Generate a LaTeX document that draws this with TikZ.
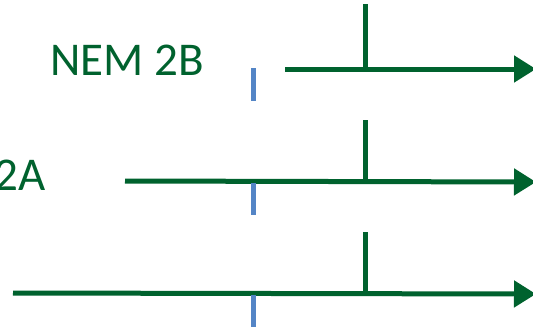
\documentclass[tikz,border=0pt]{standalone}
\usepackage{fontspec}
\setmainfont{Carlito}
\usetikzlibrary{arrows.meta}
\definecolor{dgreen}{RGB}{0,98,46}
\definecolor{tblue}{RGB}{84,133,198}
\begin{document}
\begin{tikzpicture}[x=1pt,y=-1pt,
  axis/.style={draw=dgreen,line width=5pt,-{Triangle[length=22pt,width=26pt]}},
  gtick/.style={draw=dgreen,line width=5pt},
  btick/.style={draw=tblue,line width=5pt},
  lbl/.style={text=dgreen,font=\fontsize{47}{50}\selectfont,inner sep=0pt}]
\useasboundingbox (0,0) rectangle (533,330);
% labels
\node[lbl,anchor=base west] (l1) at (50,75) {NEM 2B};
\node[lbl,anchor=base east] (l2) at (46,190) {2A};
% top
\coordinate (a1) at (285,69);
\coordinate (b1) at (536,69);
\coordinate (g1a) at (365,4);
\coordinate (g1b) at (365,69);
\coordinate (t1a) at (253,68);
\coordinate (t1b) at (253,101);
\draw[axis] (a1) -- (b1);
\draw[gtick] (g1a) -- (g1b);
\draw[btick] (t1a) -- (t1b);
% middle
\coordinate (a2) at (125,181);
\coordinate (b2) at (536,182);
\coordinate (g2a) at (365,120);
\coordinate (g2b) at (365,182);
\coordinate (t2a) at (253,183);
\coordinate (t2b) at (253,215);
\draw[axis] (a2) -- (b2);
\draw[gtick] (g2a) -- (g2b);
\draw[btick] (t2a) -- (t2b);
% bottom
\coordinate (a3) at (13,293);
\coordinate (b3) at (536,294);
\coordinate (g3a) at (365,232);
\coordinate (g3b) at (365,294);
\coordinate (t3a) at (253,295);
\coordinate (t3b) at (253,327);
\draw[axis] (a3) -- (b3);
\draw[gtick] (g3a) -- (g3b);
\draw[btick] (t3a) -- (t3b);
\end{tikzpicture}
\end{document}
